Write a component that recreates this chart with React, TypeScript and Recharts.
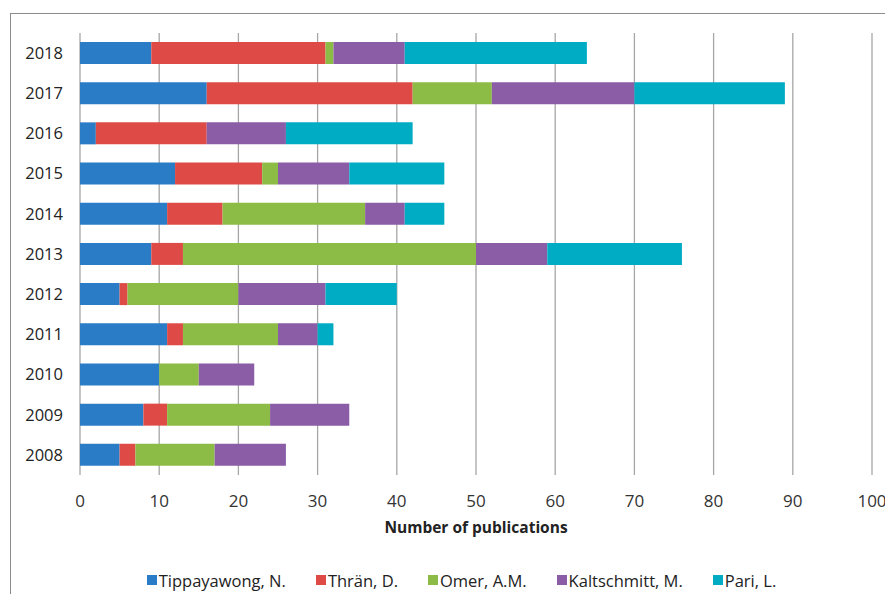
import { BarChart, Bar, XAxis, YAxis, CartesianGrid, Legend } from "recharts";

const years = ["2018", "2017", "2016", "2015", "2014", "2013", "2012", "2011", "2010", "2009", "2008"];
const tippayawong = [9, 16, 2, 12, 11, 9, 5, 11, 10, 8, 5];
const thran = [22, 26, 14, 11, 7, 4, 1, 2, 0, 3, 2];
const omer = [1, 10, 0, 2, 18, 37, 14, 12, 5, 13, 10];
const kaltschmitt = [9, 18, 10, 9, 5, 9, 11, 5, 7, 10, 9];
const pari = [23, 19, 16, 12, 5, 17, 9, 2, 0, 0, 0];
const xTicks = [0, 10, 20, 30, 40, 50, 60, 70, 80, 90, 100];

const SERIES = [
  { key: "tippayawong", name: "Tippayawong, N.", color: "#2a7cc6", values: tippayawong },
  { key: "thran", name: "Thrän, D.", color: "#de4b47", values: thran },
  { key: "omer", name: "Omer, A.M.", color: "#8cbb46", values: omer },
  { key: "kaltschmitt", name: "Kaltschmitt, M.", color: "#8a5da6", values: kaltschmitt },
  { key: "pari", name: "Pari, L.", color: "#00abc4", values: pari },
];

const data = years.map((year, i) => {
  const row: Record<string, string | number> = { year };
  SERIES.forEach((s) => {
    row[s.key] = s.values[i];
  });
  return row;
});

const FONT = "'Open Sans', sans-serif";

// legend drawn by hand so the square markers and gaps match the original
const renderLegend = () => (
  <div
    style={{
      display: "flex",
      justifyContent: "center",
      height: 20,
      alignItems: "center",
      fontFamily: FONT,
      fontSize: 16.5,
      color: "#222",
      paddingLeft: 40,
    }}
  >
    {SERIES.map((s, i) => (
      <span
        key={s.key}
        style={{ display: "flex", alignItems: "center", marginRight: i === SERIES.length - 1 ? 0 : 30 }}
      >
        <span style={{ width: 10, height: 10, background: s.color, display: "inline-block", marginRight: 2 }} />
        {s.name}
      </span>
    ))}
  </div>
);

export default function App() {
  return (
    <>
      <style>{"html, body { overflow: hidden; }"}</style>
      <div
        style={{
          marginLeft: 2,
          marginTop: 5,
          width: 882,
          height: 580,
          borderLeft: "1px solid #8c8c8c",
          borderTop: "1px solid #8c8c8c",
          background: "#fff",
        }}
      >
        <BarChart
          width={882}
          height={580}
          data={data}
          layout="vertical"
          barSize={22}
          margin={{ top: 19, right: 21, left: 0, bottom: 4 }}
        >
          <CartesianGrid horizontal={false} stroke="#a6a6a6" strokeWidth={1.3} />
          <XAxis
            type="number"
            domain={[0, 100]}
            ticks={xTicks}
            axisLine={false}
            tickLine={false}
            tickSize={0}
            tickMargin={20}
            height={95}
            tick={{ fontSize: 17, fill: "#333", fontFamily: FONT }}
            label={{
              value: "Number of publications",
              position: "insideBottom",
              offset: 37,
              style: { fontSize: 15.5, fontWeight: 700, fill: "#222", fontFamily: FONT },
            }}
          />
          <YAxis
            type="category"
            dataKey="year"
            width={69}
            axisLine={false}
            tickLine={false}
            tickSize={0}
            tickMargin={17}
            tick={{ fontSize: 16.5, fill: "#222", fontFamily: FONT }}
          />
          <Legend verticalAlign="bottom" content={renderLegend} />
          {SERIES.map((s) => (
            <Bar
              key={s.key}
              dataKey={s.key}
              name={s.name}
              stackId="a"
              fill={s.color}
              isAnimationActive={false}
            />
          ))}
        </BarChart>
      </div>
    </>
  );
}
